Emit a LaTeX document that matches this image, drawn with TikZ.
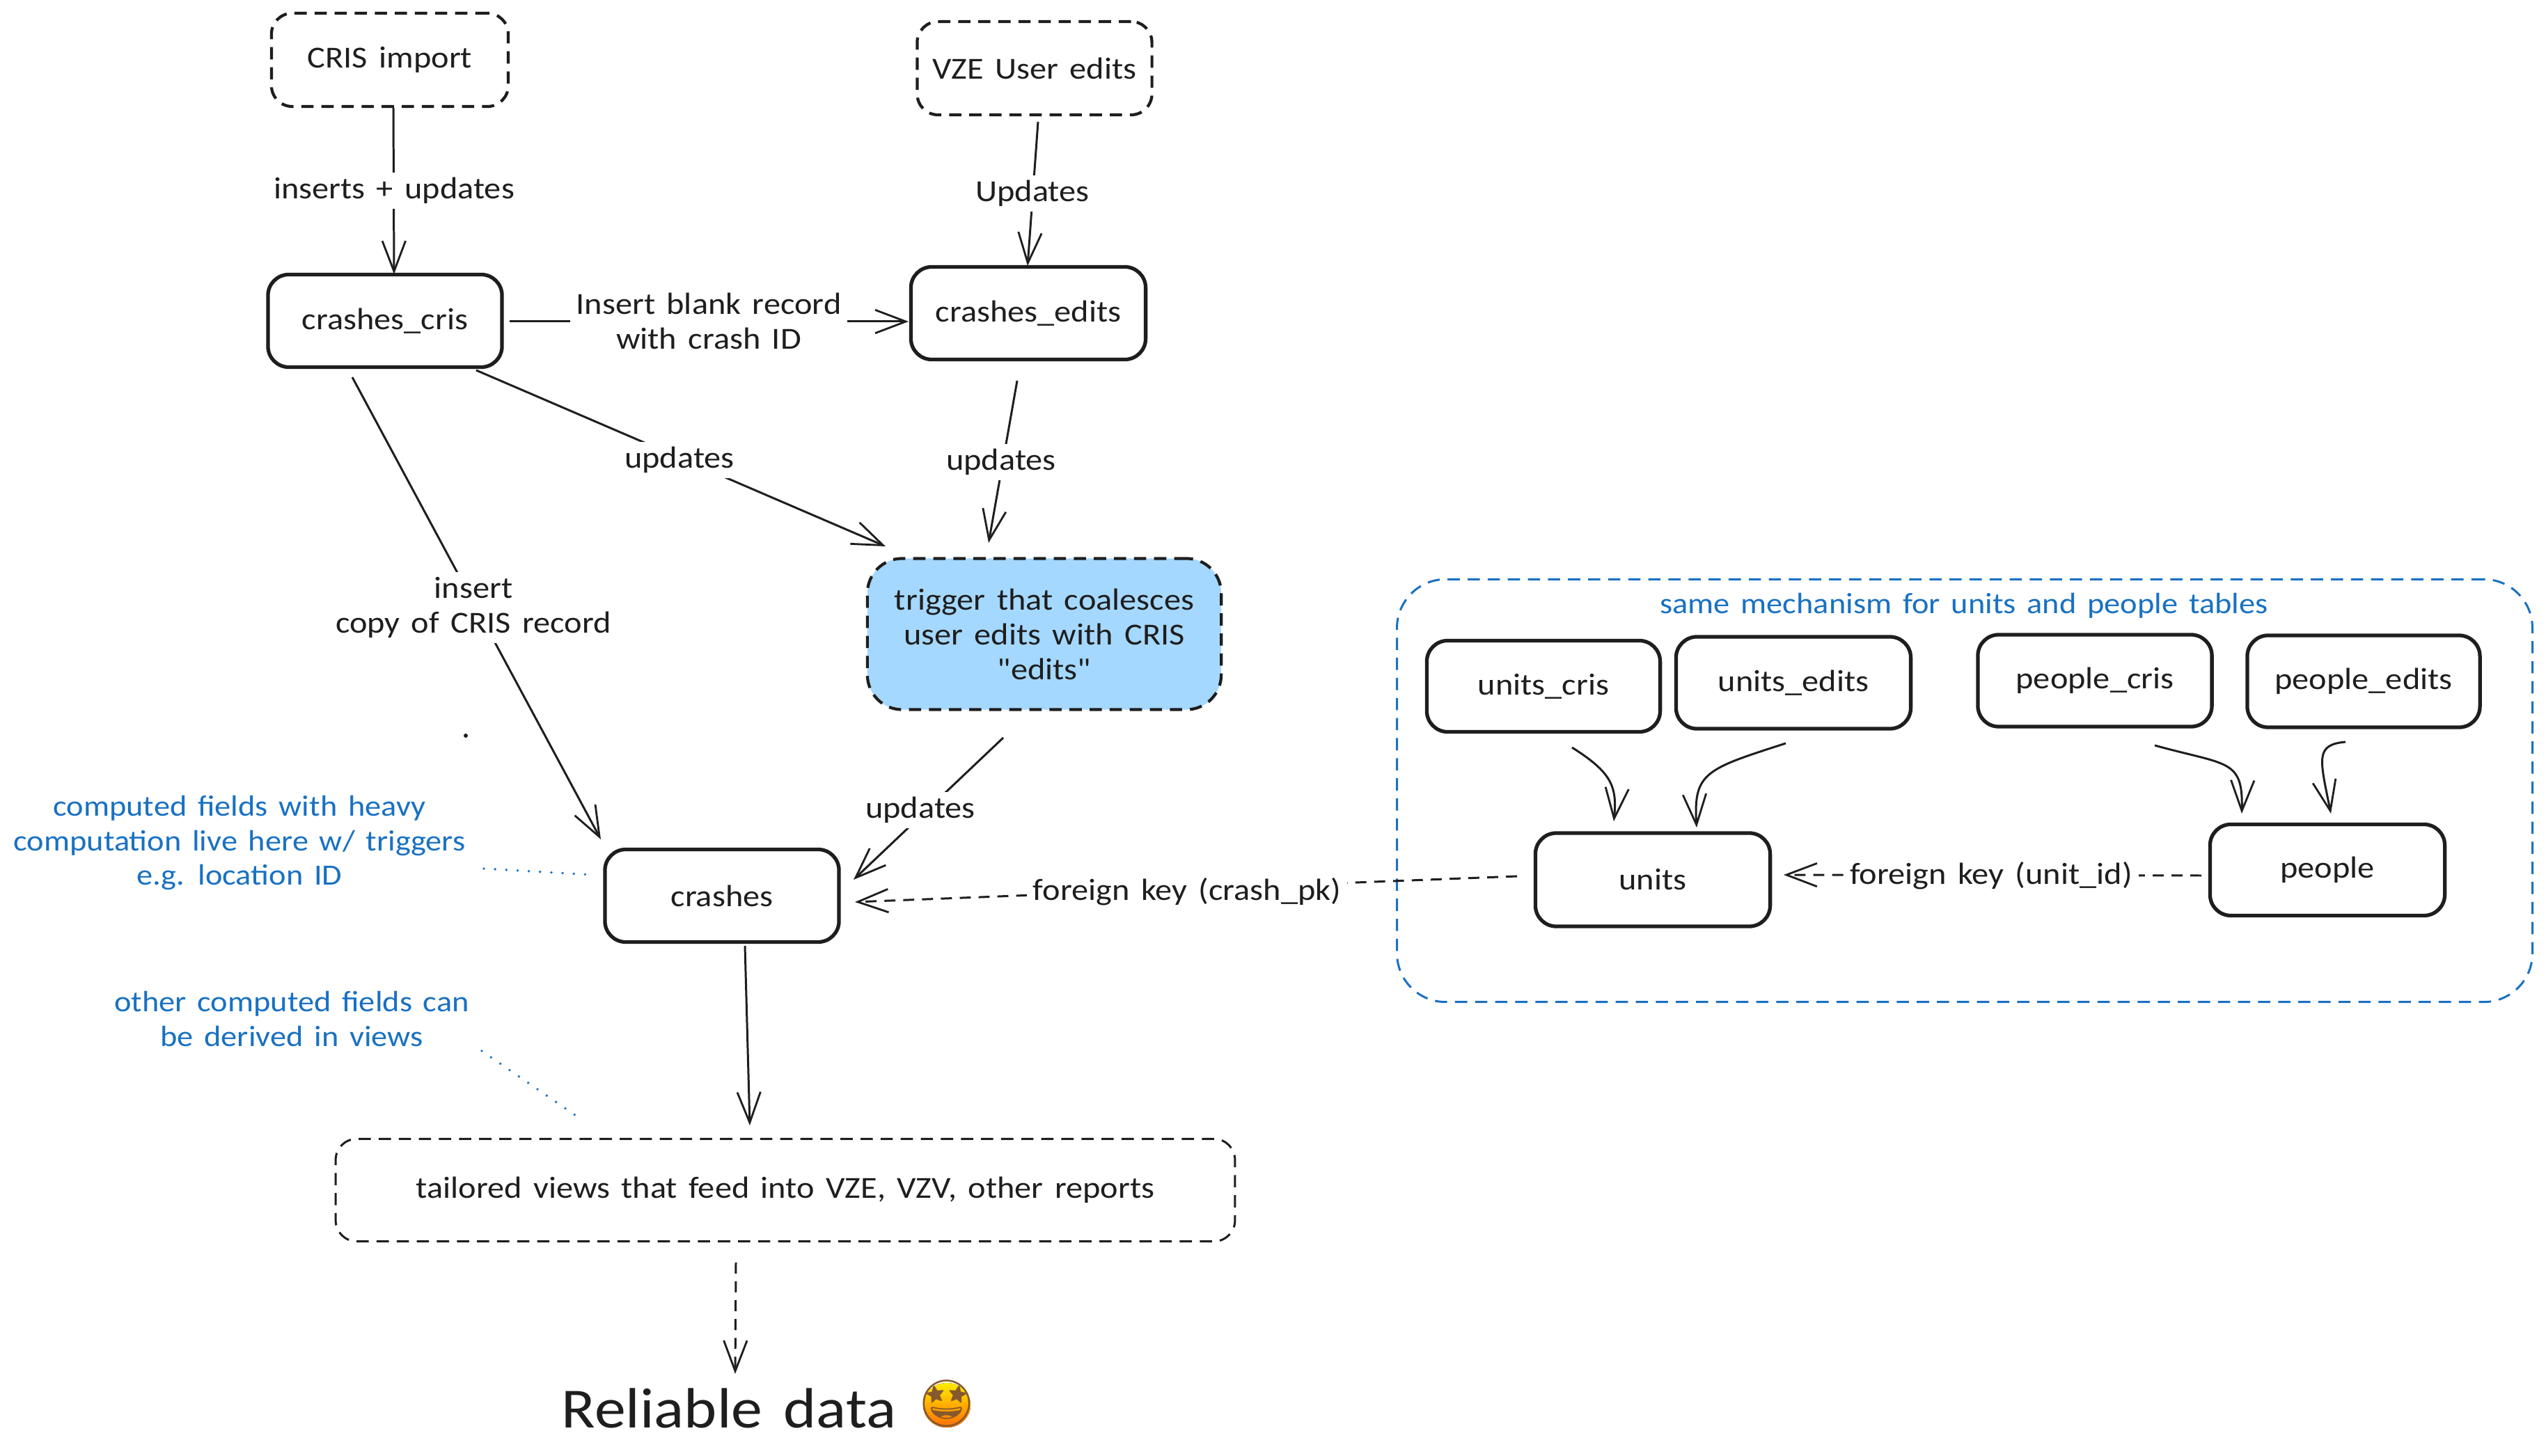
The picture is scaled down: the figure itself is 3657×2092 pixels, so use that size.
\documentclass[tikz,border=0pt]{standalone}
\usepackage{fontspec}
\setmainfont{Carlito}[FakeStretch=1.1,WordSpace=1.5]
\newfontfamily\plainq{Carlito}[FakeStretch=1.1]
\newfontfamily\emojifont{Noto Emoji}
\usetikzlibrary{arrows.meta}
\definecolor{inkc}{HTML}{1E1E1E}
\definecolor{bluec}{HTML}{1971C2}
\definecolor{fillc}{HTML}{A5D8FF}
\tikzset{
  basefont/.style={font=\fontsize{12.5}{14.2}\selectfont},
  boxbase/.style={draw=inkc,rounded corners=0.3cm,inner sep=0pt,outer sep=0pt,align=center,text=inkc,basefont},
  solidbox/.style={boxbase,line width=1.5pt},
  dashbox/.style={boxbase,line width=1.2pt,dash pattern=on 5pt off 3.2pt},
  thindash/.style={boxbase,line width=0.85pt,dash pattern=on 5pt off 3.2pt},
  conn/.style={draw=inkc,line width=0.85pt,-{Straight Barb[length=12.5pt,width=9.5pt,line width=0.8pt]}},
  dconn/.style={conn,dash pattern=on 4.5pt off 3.2pt},
  lab/.style={fill=white,inner xsep=2.5pt,inner ysep=2pt,align=center,text=inkc,basefont},
  bluelab/.style={align=center,text=bluec,font=\fontsize{12}{14.2}\selectfont},
  dots/.style={draw=bluec,line width=1.1pt,line cap=round,dash pattern=on 0pt off 4.6pt}
}
\begin{document}
\begin{tikzpicture}[x=0.01cm,y=-0.01cm]
\useasboundingbox[fill=white] (0,0) rectangle (3657,2092);
% group
\node[thindash,draw=bluec,rounded corners=0.7cm,minimum width=16.3cm,minimum height=6.07cm] (grp) at (2822,1136) {};
\node[bluelab] (grptitle) at (2821,870) {same mechanism for units and people tables};
% boxes
\node[dashbox,minimum width=3.4cm,minimum height=1.34cm] (crisimport) at (560,86) {CRIS import};
\node[dashbox,minimum width=3.37cm,minimum height=1.34cm] (vze) at (1486,98) {VZE User edits};
\node[solidbox,minimum width=3.36cm,minimum height=1.33cm] (ccris) at (553,461) {crashes\_cris};
\node[solidbox,minimum width=3.37cm,minimum height=1.33cm] (cedits) at (1477,450) {crashes\_edits};
\node[dashbox,fill=fillc,minimum width=5.08cm,minimum height=2.17cm,rounded corners=0.5cm] (trig) at (1500,911) {trigger that coalesces\\user edits with CRIS\\{\plainq "edits"}};
\node[solidbox,minimum width=3.36cm,minimum height=1.33cm] (crashes) at (1037,1287) {crashes};
\node[thindash,minimum width=12.91cm,minimum height=1.47cm] (views) at (1128,1710) {tailored views that feed into VZE, VZV, other reports};
\node[solidbox,minimum width=3.35cm,minimum height=1.31cm] (ucris) at (2217,986) {units\_cris};
\node[solidbox,minimum width=3.37cm,minimum height=1.32cm] (uedits) at (2576,981) {units\_edits};
\node[solidbox,minimum width=3.36cm,minimum height=1.32cm] (pcris) at (3009,978) {people\_cris};
\node[solidbox,minimum width=3.34cm,minimum height=1.32cm] (pedits) at (3395,979) {people\_edits};
\node[solidbox,minimum width=3.37cm,minimum height=1.34cm] (units) at (2374,1264) {units};
\node[solidbox,minimum width=3.37cm,minimum height=1.31cm] (people) at (3343,1250) {people};
\node[text=inkc,font=\fontsize{23.2}{28}\selectfont,inner sep=0pt] (reliable) at (1047,2023) {Reliable data};
\fill[top color=yellow!85!orange,bottom color=orange!85!red] (1360,2019) ellipse (0.34cm and 0.32cm);
\node[text=brown!70!black,font=\fontsize{19}{22}\emojifont,inner sep=0pt] (emoji) at (1360,2017) {🤩};
% connectors
\draw[conn] ([shift={(5,69)}]crisimport.center) -- ([shift={(13,-67)}]ccris.center);
\draw[conn] ([shift={(5,77)}]vze.center) -- ([shift={(-1,-68)}]cedits.center);
\draw[conn] ([shift={(179,1)}]ccris.center) -- ([shift={(-172,12)}]cedits.center);
\draw[conn] ([shift={(131,71)}]ccris.center) -- ([shift={(-228,-126)}]trig.center);
\draw[conn] ([shift={(-16,97)}]cedits.center) -- ([shift={(-80,-131)}]trig.center);
\draw[conn] ([shift={(-47,81)}]ccris.center) -- ([shift={(-174,-81)}]crashes.center);
\draw[conn] ([shift={(-59,149)}]trig.center) -- ([shift={(189,-23)}]crashes.center);
\draw[conn] ([shift={(33,72)}]crashes.center) -- ([shift={(-51,-93)}]views.center);
\draw[dconn] ([shift={(-71,104)}]views.center) -- ([shift={(9,-49)}]reliable.center);
\draw[dconn] ([shift={(-195,-5)}]units.center) -- ([shift={(191,9)}]crashes.center);
\draw[dconn] ([shift={(-181,8)}]people.center) -- ([shift={(188,-7)}]units.center);
\draw[conn] ([shift={(41,88)}]ucris.center) .. controls +(57,36) and +(5,-50) .. ([shift={(-56,-84)}]units.center);
\draw[conn] ([shift={(-11,87)}]uedits.center) .. controls +(-115,37) and +(-5,-79) .. ([shift={(63,-75)}]units.center);
\draw[conn] ([shift={(86,93)}]pcris.center) .. controls +(105,29) and +(2,-79) .. ([shift={(-123,-81)}]people.center);
\draw[conn] ([shift={(-26,87)}]pedits.center) .. controls +(-44,4) and +(-16,-79) .. ([shift={(5,-81)}]people.center);
% labels
\node[lab] (l1) at (566,274) {inserts + updates};
\node[lab] (l2) at (1483,278) {Updates};
\node[lab] (l3) at (1018,461) {Insert blank record\\with crash ID};
\node[lab] (l4) at (976,661) {updates};
\node[lab] (l5) at (1438,664) {updates};
\node[lab] (l6) at (680,873) {insert\\copy of CRIS record};
\node[lab] (l7) at (1322,1164) {updates};
\node[lab] (l8) at (1705,1281) {foreign key (crash\_pk)};
\node[lab] (l9) at (2860,1258) {foreign key (unit\_id)};
% notes
\node[bluelab] (n1) at (344,1211) {computed fields with heavy\\computation live here w/ triggers\\e.g. location ID};
\node[bluelab] (n2) at (419,1464) {other computed fields can\\be derived in views};
\draw[dots] ([shift={(351,37)}]n1.center) -- ([shift={(-185,-30)}]crashes.center);
\draw[dots] ([shift={(273,46)}]n2.center) -- ([shift={(-292,-101)}]views.center);
\fill[inkc] (669,1057) circle (0.03cm);
\end{tikzpicture}
\end{document}
